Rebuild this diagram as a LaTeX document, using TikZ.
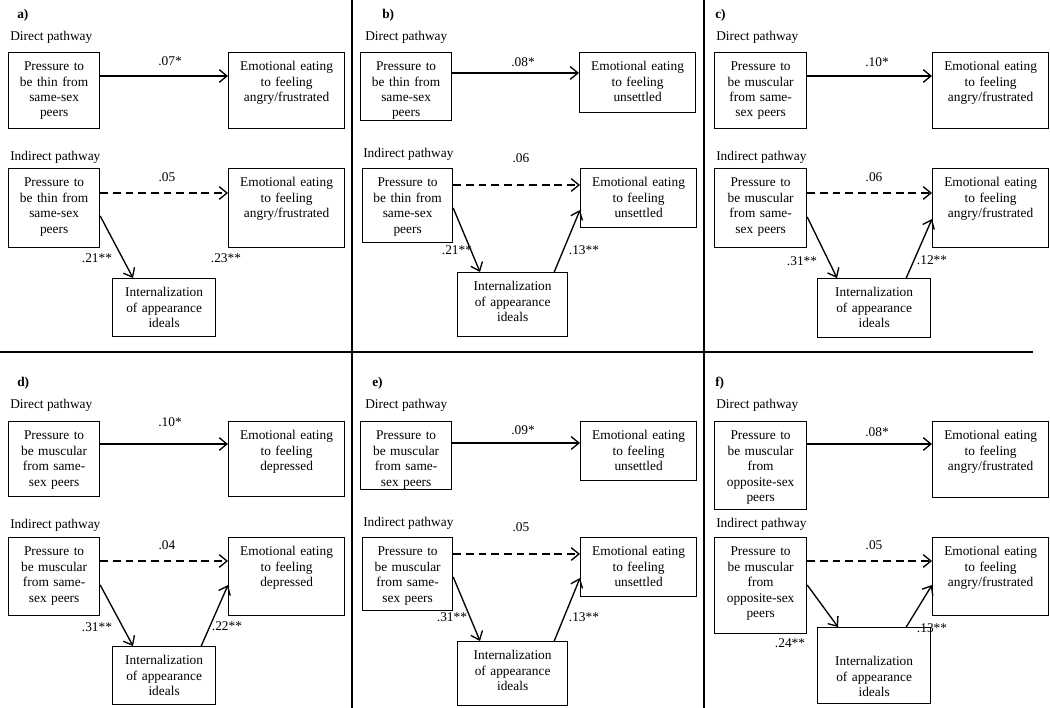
\documentclass[tikz,border=0pt]{standalone}
\usepackage{fontspec}
\setmainfont{Liberation Serif}
\usepackage{tikz}
\usetikzlibrary{calc}
\usetikzlibrary{arrows.meta}
\tikzstyle{box} = [rectangle, draw, line width=0.85pt, anchor=north west, align=center, inner sep=0pt, text height=12.8pt, font=\fontsize{9.5}{11}\selectfont]
\tikzstyle{pbox} = [box, text width=2.275cm]
\tikzstyle{ebox} = [box, text width=2.9cm]
\tikzstyle{lbl} = [inner sep=0pt, font=\fontsize{9.5}{11}\selectfont]
\tikzstyle{tag} = [lbl, anchor=west, font=\fontsize{9.5}{11}\selectfont\bfseries]
\tikzstyle{link} = [line width=0.95pt, -{Straight Barb[length=5.5pt, width=9pt, line width=0.95pt]}]
\tikzstyle{dlink} = [link, dash pattern=on 5.5pt off 3.5pt]
\tikzstyle{panelline} = [line width=1.8pt]

\begin{document}
\begin{tikzpicture}[x=0.025cm, y=-0.025cm]

    \useasboundingbox (0,0) rectangle (1050,708);

    \draw [panelline] (352,0) -- (352,708);
    \draw [panelline] (704,0) -- (704,708);
    \draw [panelline] (0,352) -- (1033,352);

    % panel a
    \node[tag] (taga) at (17,15) {a)};
    \node[lbl, anchor=west] (dira) at (10,37) {Direct pathway};
    \node[pbox, text depth=41.3pt] (dpa) at (8,52) {Pressure to\\be thin from\\same-sex\\peers};
    \node[ebox, text depth=41.3pt] (dea) at (228,52) {Emotional eating\\to feeling\\angry/frustrated};
    \node[lbl, anchor=west] (inda) at (10,157) {Indirect pathway};
    \node[pbox, text depth=43.4pt] (ipa) at (8,168) {Pressure to\\be thin from\\same-sex\\peers};
    \node[ebox, text depth=43.4pt] (iea) at (228,168) {Emotional eating\\to feeling\\angry/frustrated};
    \node[box, text width=2.575cm, text depth=28.5pt] (ina) at (112,278) {Internalization\\of appearance\\ideals};
    \draw [link] ($(dpa.north east)+(0,24)$) -- ($(dea.north west)+(0,24)$);
    \draw [dlink] ($(ipa.north east)+(0,25)$) -- ($(iea.north west)+(0,25)$);
    \draw [link] ($(ipa.north east)+(0,48)$) -- ($(ina.north west)+(21,0)$);
    \node[lbl] (wa1) at (170,61) {.07*};
    \node[lbl] (wa2) at (167,177) {.05};
    \node[lbl] (wa3) at (97,258) {.21**};
    \node[lbl] (wa4) at (226,258) {.23**};

    % panel b
    \node[tag] (tagb) at (382,15) {b)};
    \node[lbl, anchor=west] (dirb) at (365,37) {Direct pathway};
    \node[pbox, text depth=35.6pt] (dpb) at (360,52) {Pressure to\\be thin from\\same-sex\\peers};
    \node[ebox, text depth=29.9pt] (deb) at (579,52) {Emotional eating\\to feeling\\unsettled};
    \node[lbl, anchor=west] (indb) at (363,154) {Indirect pathway};
    \node[pbox, text width=2.25cm, text depth=39.8pt] (ipb) at (362,168) {Pressure to\\be thin from\\same-sex\\peers};
    \node[ebox, text depth=29.2pt] (ieb) at (580,168) {Emotional eating\\to feeling\\unsettled};
    \node[box, text width=2.75cm, text depth=32.7pt] (inb) at (457,272) {Internalization\\of appearance\\ideals};
    \draw [link] ($(dpb.north east)+(0,21)$) -- ($(deb.north west)+(0,21)$);
    \draw [dlink] ($(ipb.north east)+(0,17)$) -- ($(ieb.north west)+(0,17)$);
    \draw [link] ($(ipb.north east)+(0,40)$) -- ($(inb.north west)+(23,0)$);
    \draw [link] ($(inb.north east)+(-14,0)$) -- ($(ieb.north west)+(0,42)$);
    \node[lbl] (wb1) at (523,62) {.08*};
    \node[lbl] (wb2) at (521,158) {.06};
    \node[lbl] (wb3) at (457,250) {.21**};
    \node[lbl] (wb4) at (584,250) {.13**};

    % panel c
    \node[tag] (tagc) at (715,15) {c)};
    \node[lbl, anchor=west] (dirc) at (716,37) {Direct pathway};
    \node[pbox, text width=2.3cm, text depth=41.3pt] (dpc) at (714,52) {Pressure to\\be muscular\\from same-\\sex peers};
    \node[ebox, text depth=41.3pt] (dec) at (932,52) {Emotional eating\\to feeling\\angry/frustrated};
    \node[lbl, anchor=west] (indc) at (716,157) {Indirect pathway};
    \node[pbox, text width=2.3cm, text depth=43.4pt] (ipc) at (714,168) {Pressure to\\be muscular\\from same-\\sex peers};
    \node[ebox, text depth=43.4pt] (iec) at (932,168) {Emotional eating\\to feeling\\angry/frustrated};
    \node[box, text width=2.825cm, text depth=29.2pt] (inc) at (817,278) {Internalization\\of appearance\\ideals};
    \draw [link] ($(dpc.north east)+(0,24)$) -- ($(dec.north west)+(0,24)$);
    \draw [dlink] ($(ipc.north east)+(0,25)$) -- ($(iec.north west)+(0,25)$);
    \draw [link] ($(ipc.north east)+(0,49)$) -- ($(inc.north west)+(20,0)$);
    \draw [link] ($(inc.north east)+(-25,0)$) -- ($(iec.north west)+(0,51)$);
    \node[lbl] (wc1) at (877,62) {.10*};
    \node[lbl] (wc2) at (874,177) {.06};
    \node[lbl] (wc3) at (802,261) {.31**};
    \node[lbl] (wc4) at (932,260) {.12**};

    % panel d
    \node[tag] (tagd) at (17,383) {d)};
    \node[lbl, anchor=west] (dird) at (10,405) {Direct pathway};
    \node[pbox, text depth=40.5pt] (dpd) at (8,421) {Pressure to\\be muscular\\from same-\\sex peers};
    \node[ebox, text depth=40.5pt] (ded) at (228,421) {Emotional eating\\to feeling\\depressed};
    \node[lbl, anchor=west] (indd) at (10,525) {Indirect pathway};
    \node[pbox, text depth=42.7pt] (ipd) at (8,537) {Pressure to\\be muscular\\from same-\\sex peers};
    \node[ebox, text depth=42.7pt] (ied) at (228,537) {Emotional eating\\to feeling\\depressed};
    \node[box, text width=2.575cm, text depth=28.5pt] (ind) at (112,646) {Internalization\\of appearance\\ideals};
    \draw [link] ($(dpd.north east)+(0,23)$) -- ($(ded.north west)+(0,23)$);
    \draw [dlink] ($(ipd.north east)+(0,24)$) -- ($(ied.north west)+(0,24)$);
    \draw [link] ($(ipd.north east)+(0,48)$) -- ($(ind.north west)+(21,0)$);
    \draw [link] ($(ind.north east)+(-15,0)$) -- ($(ied.north west)+(0,48)$);
    \node[lbl] (wd1) at (170,422) {.10*};
    \node[lbl] (wd2) at (167,545) {.04};
    \node[lbl] (wd3) at (97,627) {.31**};
    \node[lbl] (wd4) at (227,626) {.22**};

    % panel e
    \node[tag] (tage) at (372,383) {e)};
    \node[lbl, anchor=west] (dire) at (365,405) {Direct pathway};
    \node[pbox, text depth=35.6pt] (dpe) at (360,421) {Pressure to\\be muscular\\from same-\\sex peers};
    \node[ebox, text depth=29.2pt] (dee) at (580,421) {Emotional eating\\to feeling\\unsettled};
    \node[lbl, anchor=west] (inde) at (363,523) {Indirect pathway};
    \node[pbox, text width=2.25cm, text depth=39.1pt] (ipe) at (362,537) {Pressure to\\be muscular\\from same-\\sex peers};
    \node[ebox, text depth=29.2pt] (iee) at (580,537) {Emotional eating\\to feeling\\unsettled};
    \node[box, text width=2.75cm, text depth=32.7pt] (ine) at (457,641) {Internalization\\of appearance\\ideals};
    \draw [link] ($(dpe.north east)+(0,22)$) -- ($(dee.north west)+(0,22)$);
    \draw [dlink] ($(ipe.north east)+(0,17)$) -- ($(iee.north west)+(0,17)$);
    \draw [link] ($(ipe.north east)+(0,40)$) -- ($(ine.north west)+(23,0)$);
    \draw [link] ($(ine.north east)+(-14,0)$) -- ($(iee.north west)+(0,41)$);
    \node[lbl] (we1) at (523,430) {.09*};
    \node[lbl] (we2) at (521,527) {.05};
    \node[lbl] (we3) at (452,617) {.31**};
    \node[lbl] (we4) at (584,617) {.13**};

    % panel f
    \node[tag] (tagf) at (715,383) {f)};
    \node[lbl, anchor=west] (dirf) at (716,405) {Direct pathway};
    \node[pbox, text width=2.3cm, text depth=49.8pt] (dpf) at (714,421) {Pressure to\\be muscular\\from\\opposite-sex\\peers};
    \node[ebox, text depth=41.3pt] (def) at (932,421) {Emotional eating\\to feeling\\angry/frustrated};
    \node[lbl, anchor=west] (indf) at (716,524) {Indirect pathway};
    \node[pbox, text width=2.3cm, text depth=55.5pt] (ipf) at (714,537) {Pressure to\\be muscular\\from\\opposite-sex\\peers};
    \node[ebox, text depth=42.7pt] (ief) at (932,537) {Emotional eating\\to feeling\\angry/frustrated};
    \node[box, text width=2.825cm, text height=27pt, text depth=27.1pt] (inf) at (817,627) {Internalization\\of appearance\\ideals};
    \draw [link] ($(dpf.north east)+(0,23)$) -- ($(def.north west)+(0,23)$);
    \draw [dlink] ($(ipf.north east)+(0,24)$) -- ($(ief.north west)+(0,24)$);
    \draw [link] ($(ipf.north east)+(0,48)$) -- ($(inf.north west)+(21,0)$);
    \draw [link] ($(inf.north east)+(-25,0)$) -- ($(ief.north west)+(0,48)$);
    \node[lbl] (wf1) at (877,432) {.08*};
    \node[lbl] (wf2) at (874,545) {.05};
    \node[lbl] (wf3) at (790,643) {.24**};
    \node[lbl] (wf4) at (932,628) {.13**};

\end{tikzpicture}
\end{document}
